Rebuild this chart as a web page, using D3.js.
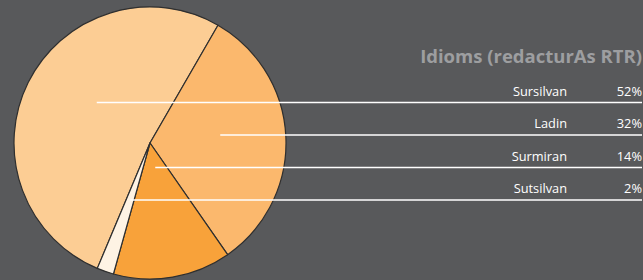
<!DOCTYPE html>
<html>
<head>
<meta charset="utf-8">
<script src="https://cdn.jsdelivr.net/npm/d3@7"></script>
<style>
  body { margin: 0; background: #58595b; }
  svg { display: block; }
</style>
</head>
<body>
<div id="chart"></div>
<script>
// data
var idioms = ["Sursilvan", "Ladin", "Surmiran", "Sutsilvan"];
var shares = [52, 32, 14, 2];
var colors = ["#fccd94", "#fbb86d", "#f8a23a", "#fef3e4"];
var title = "Idioms (redacturAs RTR)";

var width = 643, height = 280;
var cx = 150, cy = 143, radius = 136;

var svg = d3.select("#chart")
  .append("svg")
    .attr("width", width)
    .attr("height", height);

svg.append("rect")
  .attr("width", width)
  .attr("height", height)
  .attr("fill", "#58595b");

// pie: Sursilvan ends at 30deg (clockwise from top)
var total = d3.sum(shares);
var start = Math.PI / 6 - shares[0] / total * 2 * Math.PI;
var pie = d3.pie()
  .sort(null)
  .startAngle(start)
  .endAngle(start + 2 * Math.PI)
  .value(function(d) { return d; });

var arcs = pie(shares);
var arc = d3.arc().innerRadius(0).outerRadius(radius);

var g = svg.append("g")
  .attr("transform", "translate(" + cx + "," + cy + ")");

g.selectAll("path")
  .data(arcs)
  .enter()
  .append("path")
    .attr("d", arc)
    .attr("fill", function(d, i) { return colors[i]; })
    .attr("stroke", "#2f2f2f")
    .attr("stroke-width", 1.2)
    .attr("stroke-linejoin", "round");

// legend rows
var row = d3.scaleBand()
  .domain(idioms)
  .range([70, 200])
  .paddingInner(0);
function lineY(name) { return row(name) + row.bandwidth(); }

// where the row line crosses the slice: take the middle of that span
function anchorX(d, y) {
  var xs = [];
  for (var x = -radius; x <= radius; x += 0.5) {
    var dy = y - cy;
    if (x * x + dy * dy > radius * radius) continue;
    var a = Math.atan2(x, -dy);
    while (a < d.startAngle) a += 2 * Math.PI;
    if (a <= d.endAngle) xs.push(x);
  }
  return cx + (d3.min(xs) + d3.max(xs)) / 2;
}

svg.selectAll(".leader")
  .data(arcs)
  .enter()
  .append("line")
    .attr("x1", function(d, i) { return anchorX(d, lineY(idioms[i])); })
    .attr("x2", 642)
    .attr("y1", function(d, i) { return lineY(idioms[i]); })
    .attr("y2", function(d, i) { return lineY(idioms[i]); })
    .attr("stroke", "#ffffff")
    .attr("stroke-width", 1.3);

svg.selectAll(".name")
  .data(idioms)
  .enter()
  .append("text")
    .attr("x", 567)
    .attr("y", function(d) { return lineY(d) - 7; })
    .attr("text-anchor", "end")
    .attr("font-family", "Open Sans, sans-serif")
    .attr("font-size", 12.8)
    .attr("fill", "#ffffff")
    .text(function(d) { return d; });

svg.selectAll(".pct")
  .data(shares)
  .enter()
  .append("text")
    .attr("x", 642)
    .attr("y", function(d, i) { return lineY(idioms[i]) - 7; })
    .attr("text-anchor", "end")
    .attr("font-family", "Open Sans, sans-serif")
    .attr("font-size", 12.8)
    .attr("fill", "#ffffff")
    .text(function(d) { return d + "%"; });

svg.append("text")
  .attr("x", 642)
  .attr("y", 63)
  .attr("text-anchor", "end")
  .attr("font-family", "Open Sans, sans-serif")
  .attr("font-weight", "bold")
  .attr("font-size", 18.5)
  .attr("fill", "#9d9ea0")
  .text(title);
</script>
</body>
</html>
